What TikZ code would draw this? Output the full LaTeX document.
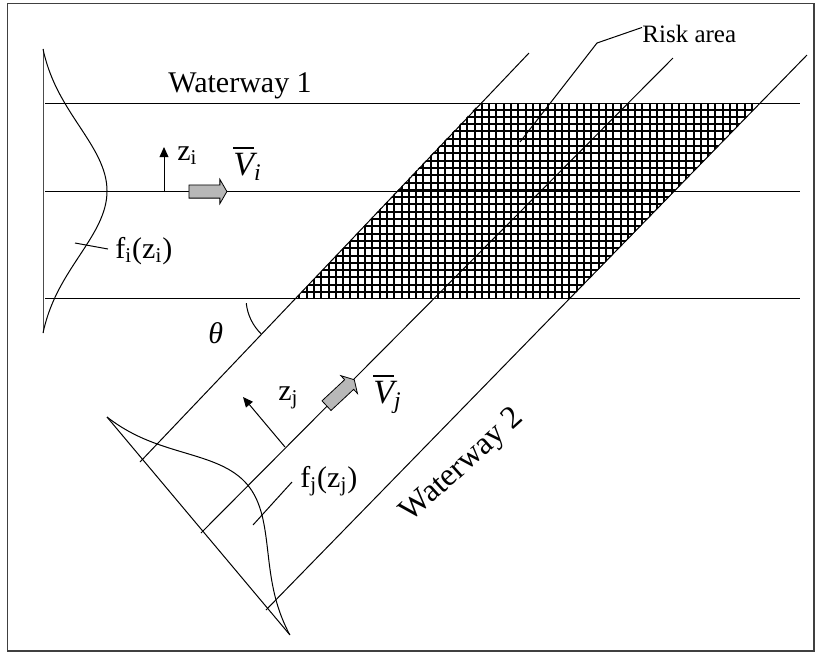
\documentclass[tikz,border=0pt]{standalone}
\usepackage{amsmath}
\usepackage{fontspec}
\setmainfont{Liberation Serif}
\usetikzlibrary{%
	calc,%
	arrows.meta,%
	shapes.arrows,%
}
\tikzset{
	>=Triangle,%
	wline/.style={%
			draw,%
			line width=0.5pt},%
	frame/.style={%
			draw=black!75,%
			line width=0.8pt},%
	lbl/.style={%
			inner sep=0pt,%
			anchor=base west,%
			font={\fontsize{15}{17}\selectfont}},%
	vlbl/.style={%
			lbl,%
			font={\fontsize{17}{19}\selectfont}},%
	smalllbl/.style={%
			inner sep=0pt,%
			anchor=base west,%
			font={\fontsize{12.5}{14}\selectfont}},%
	flowarrow/.style={%
			single arrow,%
			draw,%
			fill=black!28,%
			line width=0.4pt,%
			minimum height=19pt,%
			inner xsep=0pt,%
			inner ysep=3.1pt,%
			single arrow head extend=2.8pt,%
			single arrow tip angle=120},%
	hatch/.style={%
			line width=1pt,%
			step=3.65pt},%
	zarrow/.style={%
			->,%
			>={Triangle[length=5pt,width=4.4pt]},%
			line width=0.5pt},%
}
\newcommand{\gausstop}{(exp(-(\x/91.92)*(\x/91.92))-0.092)*70.5}

\begin{document}
\begin{tikzpicture}[x=0.5pt, y=-0.5pt]
	\useasboundingbox (0,0) rectangle (821,655);
	\draw[frame] (7.5,3.5) rectangle (814,651);

	% risk area
	\begin{scope}
		\clip (480,103) -- (760,103) -- (571,298) -- (296,298) -- cycle;
		\draw[hatch] (290,98) grid (765,302);
	\end{scope}

	% waterway 1
	\draw[wline] (45,103) -- (800,103);
	\draw[wline] (45,191.5) -- (800,191.5);
	\draw[wline] (45,298) -- (800,298);
	\draw[wline, draw=black!70] (43,49) -- (43,333);
	\draw[wline] plot[domain=-142:142, samples=71, smooth] ({43+\gausstop}, {191+\x});

	% waterway 2
	\coordinate (crossa) at (107,417);
	\coordinate (crossb) at (290,635);
	\draw[wline] (529,53) -- (140,462);
	\draw[wline] (673,58) -- (201,533);
	\draw[wline] (807,55) -- (266,610);
	\draw[wline] (crossa) -- (crossb);
	\draw[wline] plot[domain=-142:142, samples=71, smooth]
		({107+(142+\x)*0.643+0.766*\gausstop}, {417+(142+\x)*0.766-0.643*\gausstop});

	% angle
	\coordinate (apex) at (296,298);
	\draw[wline] (apex) ++(134:50) arc[start angle=134, end angle=174, radius=50];
	\node[lbl] (theta) at (208,343) {\textit{θ}};

	% labels waterway 1
	\node[lbl] (ww1) at (168,92) {Waterway 1};
	\coordinate (zibase) at (164,192);
	\coordinate (zitip) at (164,147);
	\draw[zarrow] (zibase) -- (zitip);
	\node[lbl] (zi) at (177,160) {z\textsubscript{i}};
	\node[flowarrow] (vi) at (206,191.5) {};
	\node[vlbl] (vilbl) at (233,175) {$\overline{\textit{V}}_{\textit{i}}$};
	\node[lbl] (fi) at (115,258) {f\textsubscript{i}(z\textsubscript{i})};
	\coordinate (fitick) at (75,243);
	\draw[wline] (fitick) -- (108,249);

	% labels waterway 2
	\coordinate (zjbase) at (285,447);
	\coordinate (zjtip) at (243,397);
	\draw[zarrow] (zjbase) -- (zjtip);
	\node[lbl] (zj) at (278,400) {z\textsubscript{j}};
	\node[flowarrow, rotate=43] (vj) at (339,394) {};
	\node[vlbl] (vjlbl) at (373,403) {$\overline{\textit{V}}_{\textit{j}}$};
	\node[lbl] (fj) at (300,487) {f\textsubscript{j}(z\textsubscript{j})};
	\coordinate (fjtick) at (253,525);
	\draw[wline] (fjtick) -- (292,482);
	\node[lbl, anchor=center, rotate=42, font={\fontsize{16}{18}\selectfont}] (ww2) at (463,466) {Waterway 2};

	% risk area label
	\node[smalllbl] (risk) at (642,42) {Risk area};
	\coordinate (riskbend) at (597,43);
	\coordinate (riskend) at (520,142);
	\draw[wline] (risk.west) ++(0,-6) -- (riskbend) -- (riskend);
\end{tikzpicture}
\end{document}
